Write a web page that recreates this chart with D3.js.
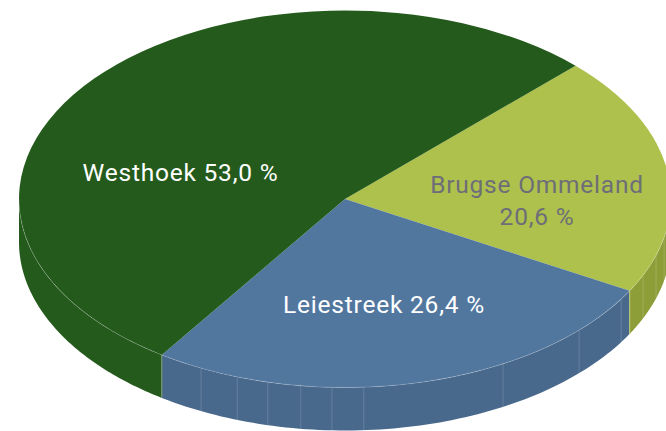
<!DOCTYPE html>
<html><head><meta charset="utf-8">
<script src="https://cdn.jsdelivr.net/npm/d3@7"></script>
<style>html,body{margin:0;background:#fff}svg{display:block}text{font-family:Roboto,sans-serif}</style>
</head><body><svg id="c" width="666" height="431"></svg>
<script>
const categories = ["Brugse Ommeland", "Leiestreek", "Westhoek"];
const values = [20.6, 26.4, 53.0];
const valueLabels = ["20,6 %", "26,4 %", "53,0 %"];
const topColors = ["#adc14c", "#52779f", "#245b1c"];
const sideColors = ["#8d9e39", "#48688c", "#245b1c"];
const textColors = ["#6e6e78", "#ffffff", "#ffffff"];
const facetDegrees = [11.8, 17.4, 23.9, 32.1, 44.1, 61, 86.7, 92.3, 97.8, 103.7, 109.3, 116.2];
const startDegree = -45;

const cx = 345, cy = 199, rx = 326, ry = 188.5, depth = 43;
const svg = d3.select("#c");
const rad = d => d * Math.PI / 180;
const px = t => cx + rx * Math.cos(t), py = t => cy + ry * Math.sin(t);

// d3 angles are clockwise from north; wall angles are clockwise from east
const pie = d3.pie().sort(null)
  .startAngle(rad(startDegree + 90)).endAngle(rad(startDegree + 450));
const arcs = pie(values);
const arc = d3.arc().innerRadius(0).outerRadius(rx);
const wall = d3.area().x(t => px(t)).y0(t => py(t)).y1(t => py(t) + depth);

// side walls (only the front half of the ellipse is visible)
arcs.forEach((a, i) => {
  const t0 = Math.max(a.startAngle - Math.PI / 2, 0);
  const t1 = Math.min(a.endAngle - Math.PI / 2, Math.PI);
  if (t1 <= t0) return;
  const n = 80, ts = d3.range(n + 1).map(k => t0 + (t1 - t0) * k / n);
  svg.append("path").attr("d", wall(ts)).attr("fill", sideColors[i]);
});
// facet seams
svg.append("g").selectAll("line").data(facetDegrees).join("line")
  .attr("x1", d => px(rad(d))).attr("x2", d => px(rad(d)))
  .attr("y1", d => py(rad(d))).attr("y2", d => py(rad(d)) + depth)
  .attr("stroke", "#fff").attr("stroke-opacity", 0.16).attr("stroke-width", 1);
// slice boundary seams
arcs.slice(0, 2).forEach((a, i) => {
  const t = a.endAngle - Math.PI / 2;
  svg.append("line").attr("x1", px(t)).attr("x2", px(t))
    .attr("y1", py(t)).attr("y2", py(t) + depth)
    .attr("stroke", i ? "#7f9a70" : "#c2d06f").attr("stroke-width", 1);
});
// top faces
svg.append("g").attr("transform", `translate(${cx},${cy}) scale(1,${ry / rx})`)
  .selectAll("path").data(arcs).join("path")
  .attr("d", arc).attr("fill", (d, i) => topColors[i]);
// light rim along the front edge
const rim = d3.line().x(t => px(t)).y(t => py(t));
svg.append("path").attr("d", rim(d3.range(0, 181, 2).map(rad)))
  .attr("fill", "none").attr("stroke", "#fff").attr("stroke-opacity", 0.3).attr("stroke-width", 0.6);

// labels
const label = (s, x, y, c) => svg.append("text").attr("x", x).attr("y", y)
  .attr("text-anchor", "middle").attr("font-size", 24.5).attr("letter-spacing", 0.78)
  .attr("fill", c).text(s);
label(categories[2] + " " + valueLabels[2], 180.5, 181, textColors[2]);
label(categories[1] + " " + valueLabels[1], 384, 313, textColors[1]);
label(categories[0], 537, 193, textColors[0]);
label(valueLabels[0], 537, 225, textColors[0]);
</script></body></html>
